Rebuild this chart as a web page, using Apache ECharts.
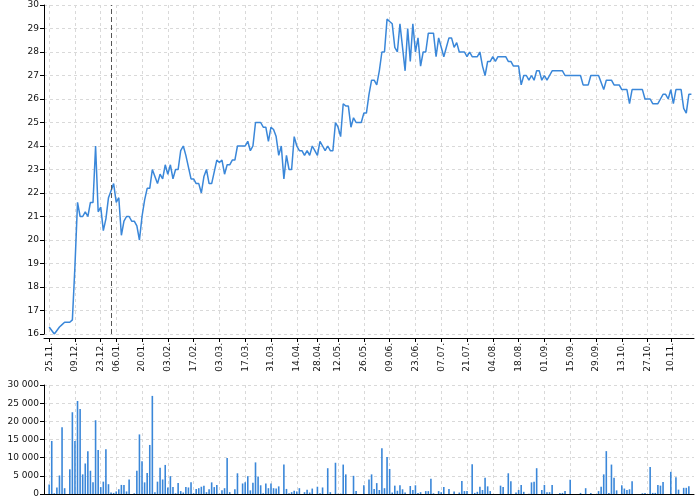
<!DOCTYPE html>
<html><head><meta charset="utf-8">
<script src="https://cdn.jsdelivr.net/npm/echarts@6/dist/echarts.min.js"></script>
<style>html,body{margin:0;padding:0;background:#fff}#c{width:700px;height:500px}</style>
</head><body><div id="c"></div>
<script>
// trading calendar (exchange closed on weekends and these days)
const firstDay = '2013-11-25';
const dayCount = 250;
const closedDays = ['2013-12-24','2013-12-25','2013-12-26','2014-01-01','2014-04-18','2014-04-21','2014-05-01','2014-05-08','2014-10-28','2014-11-17'];
const tickLabels = ['25.11.','09.12.','23.12.','06.01.','20.01.','03.02.','17.02.','03.03.','17.03.','31.03.','14.04.','28.04.','12.05.','26.05.','09.06.','23.06.','07.07.','21.07.','04.08.','18.08.','01.09.','15.09.','29.09.','13.10.','27.10.','10.11.'];
const yearMark = '2014-01-02';
const priceTicks = [16, 30, 1];
const volumeTicks = [0, 30000, 5000];

const price = [
16.3,16.15,16.0,16.15,16.3,16.4,16.5,16.5,16.5,16.6,
18.9,21.6,21.0,21.0,21.2,21.0,21.6,21.6,24.0,21.2,
21.4,20.4,20.9,21.8,22.1,22.4,21.6,21.8,20.2,20.8,
21.0,21.0,20.8,20.8,20.6,20.0,21.0,21.7,22.2,22.2,
23.0,22.7,22.4,22.8,22.6,23.2,22.8,23.2,22.6,23.0,
23.0,23.8,24.0,23.6,23.1,22.6,22.6,22.4,22.4,22.0,
22.7,23.0,22.4,22.4,22.9,23.4,23.3,23.4,22.8,23.2,
23.2,23.4,23.4,24.0,24.0,24.0,24.0,24.2,23.8,24.0,
25.0,25.0,25.0,24.8,24.8,24.2,24.8,24.7,24.4,23.6,
24.0,22.6,23.6,23.0,23.0,24.4,24.0,23.8,23.8,23.6,
23.8,23.6,24.0,23.8,23.6,24.2,24.0,23.8,24.0,23.8,
23.8,25.0,24.8,24.4,25.8,25.7,25.7,24.8,25.2,25.0,
25.0,25.0,25.4,25.4,26.2,26.8,26.8,26.6,27.2,28.0,
28.0,29.4,29.3,29.2,28.2,28.0,29.2,28.2,27.2,29.0,
27.6,29.2,28.0,28.6,27.4,28.0,28.0,28.8,28.8,28.8,
27.8,28.6,28.2,27.8,28.2,28.6,28.6,28.2,28.4,28.0,
28.0,28.0,27.8,28.0,27.8,27.8,27.8,28.0,27.4,27.0,
27.6,27.6,27.8,27.6,27.8,27.8,27.8,27.8,27.6,27.6,
27.4,27.4,27.4,26.6,27.0,27.0,26.8,27.0,26.8,27.2,
27.2,26.8,27.0,26.8,27.0,27.2,27.2,27.2,27.2,27.2,
27.0,27.0,27.0,27.0,27.0,27.0,27.0,26.6,26.6,26.6,
27.0,27.0,27.0,27.0,26.7,26.4,26.8,26.8,26.8,26.6,
26.6,26.6,26.4,26.4,26.4,25.8,26.4,26.4,26.4,26.4,
26.4,26.0,26.0,26.0,25.8,25.8,25.8,26.0,26.2,26.2,
26.0,26.4,25.8,26.4,26.4,26.4,25.6,25.4,26.2,26.2
];
const volume = [
2600,14600,200,1800,5100,18400,1600,0,6800,22500,
14600,25600,23400,5400,8400,11800,6400,3200,20300,12100,
1900,3400,12300,2700,400,300,700,1300,2500,2500,
700,4000,0,200,6400,16400,9000,3200,5800,13500,
27000,500,3400,7200,4000,8000,1800,4900,1900,200,
3000,800,400,1900,1800,3200,200,1400,1600,2000,
2300,500,1300,3200,1900,2500,100,1000,1600,9900,
500,0,1300,5700,0,2900,3200,4900,1000,3100,
8700,4800,2400,200,2900,1600,2900,1600,1500,2100,
0,8100,1400,200,500,900,700,1600,0,500,
1200,400,1500,0,2000,200,1800,0,7100,500,
0,8600,100,100,8100,5400,0,0,5000,800,
0,0,2400,0,4000,5400,1400,3000,1100,12600,
1600,10200,6900,400,2300,900,2400,1300,400,0,
2200,1100,2400,300,500,0,800,800,4200,200,
0,800,500,1900,0,1400,0,700,0,400,
3600,800,800,0,8200,300,600,2000,1100,4500,
2100,800,0,0,0,2300,1900,0,5700,3500,
0,400,1100,2500,600,0,100,3200,3400,7100,
0,1100,2500,500,500,2500,0,0,300,300,
800,0,3900,0,0,0,300,0,1600,0,
300,0,0,800,2000,5400,11800,300,8100,4500,
1000,0,2400,1500,1100,1300,3500,0,0,0,
200,300,0,7400,300,300,2500,2300,3300,0,
0,6100,0,4600,1200,0,1700,1700,2100,0
];

function pad(n){return (n<10?'0':'')+n;}
function buildDays(){
  const out=[]; const p=firstDay.split('-').map(Number);
  const d=new Date(Date.UTC(p[0],p[1]-1,p[2]));
  while(out.length<dayCount){
    const wd=d.getUTCDay();
    const iso=d.getUTCFullYear()+'-'+pad(d.getUTCMonth()+1)+'-'+pad(d.getUTCDate());
    if(wd!==0&&wd!==6&&closedDays.indexOf(iso)<0) out.push(iso);
    d.setUTCDate(d.getUTCDate()+1);
  }
  return out;
}
const days = buildDays();
const cats = ['_a','_b'].concat(days,['_z']);
const priceData = [null,null].concat(price,[null]);
const volumeData = [null,null].concat(volume,[null]);
function short(v){ if(v.charAt(0)==='_') return ''; const s=v.split('-'); return s[2]+'.'+s[1]+'.'; }
const tickSet = new Set(tickLabels);
const showTick = (i,v) => tickSet.has(short(v));
const fmtThousands = v => String(v).replace(/\B(?=(\d{3})+(?!\d))/g,'\u00a0');

const FONT = 'DejaVu Sans';
const lineColor = '#3a87d9';
const gridDash = {color:'#d9d9d9', type:[3,3], width:1};

const chart = echarts.init(document.getElementById('c'), null, {renderer:'canvas'});
chart.setOption({
  animation:false,
  backgroundColor:'#fff',
  textStyle:{fontFamily:FONT},
  grid:[
    {left:44, top:5, width:650, height:329},
    {left:44, top:385, width:650, height:109}
  ],
  xAxis:[
    {type:'category', gridIndex:0, data:cats, boundaryGap:false, offset:4,
     axisLine:{lineStyle:{color:'#000'}},
     axisTick:{show:true, interval:showTick, length:4, lineStyle:{color:'#000'}},
     axisLabel:{interval:showTick, rotate:90, formatter:short, color:'#111', fontSize:9, fontFamily:FONT, margin:5},
     splitLine:{show:true, interval:showTick, lineStyle:gridDash}},
    {type:'category', gridIndex:1, data:cats, boundaryGap:false,
     axisLine:{lineStyle:{color:'#000'}},
     axisTick:{show:false}, axisLabel:{show:false},
     splitLine:{show:true, interval:showTick, lineStyle:gridDash}}
  ],
  yAxis:[
    {type:'value', gridIndex:0, min:priceTicks[0], max:priceTicks[1], interval:priceTicks[2],
     axisLine:{show:true, lineStyle:{color:'#000'}},
     axisTick:{show:true, length:4, lineStyle:{color:'#000'}},
     axisLabel:{color:'#111', fontSize:9, fontFamily:FONT, margin:5},
     splitLine:{show:true, lineStyle:gridDash}},
    {type:'value', gridIndex:1, min:volumeTicks[0], max:volumeTicks[1], interval:volumeTicks[2],
     axisLine:{show:true, lineStyle:{color:'#000'}},
     axisTick:{show:true, length:4, lineStyle:{color:'#000'}},
     axisLabel:{color:'#111', fontSize:9, fontFamily:FONT, margin:5, formatter:fmtThousands},
     splitLine:{show:true, lineStyle:gridDash}}
  ],
  series:[
    {type:'line', xAxisIndex:0, yAxisIndex:0, data:priceData, showSymbol:false, symbol:'none',
     lineStyle:{color:lineColor, width:1.5}, itemStyle:{color:lineColor}, connectNulls:false,
     markLine:{silent:true, symbol:'none', label:{show:false},
       lineStyle:{color:'#555', type:[5,3], width:1},
       data:[{xAxis:yearMark}]}},
    {type:'bar', xAxisIndex:1, yAxisIndex:1, data:volumeData, barWidth:1.6,
     itemStyle:{color:lineColor}}
  ]
});
</script>
</body></html>
